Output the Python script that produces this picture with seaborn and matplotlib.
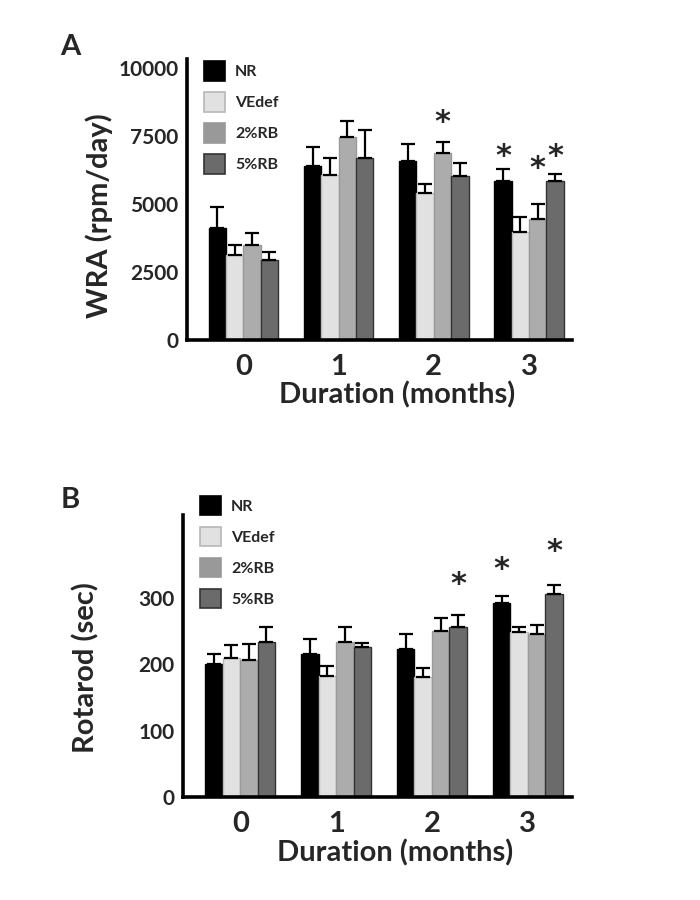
import matplotlib
matplotlib.use('Agg')
import matplotlib.pyplot as plt
import seaborn as sns
import pandas as pd
import numpy as np

sns.set_style('white')
plt.rcParams['font.family'] = ['Lato', 'DejaVu Sans']
plt.rcParams['font.weight'] = 'bold'

months = ['0', '1', '2', '3']
groups = ['NR', 'VEdef', '2%RB', '5%RB']
colors = ['#000000', '#e1e1e1', '#acacac', '#6b6b6b']
edges = ['#000000', '#b8b8b8', '#999999', '#333333']
legend_colors = ['#000000', '#e1e1e1', '#999999', '#6b6b6b']

# panel A: wheel running activity (rpm/day), mean and top of error bar
wra_nr = [4100, 6380, 6560, 5830]
wra_vedef = [3120, 6070, 5390, 3980]
wra_2rb = [3500, 7450, 6880, 4440]
wra_5rb = [2940, 6670, 6020, 5830]
wra_nr_err = [4900, 7100, 7200, 6270]
wra_vedef_err = [3480, 6690, 5720, 4520]
wra_2rb_err = [3940, 8050, 7260, 4990]
wra_5rb_err = [3250, 7700, 6500, 6110]
wra_stars = [('2', '2%RB', 8000), ('3', 'NR', 6750), ('3', '2%RB', 6280), ('3', '5%RB', 6750)]

# panel B: rotarod (sec)
rot_nr = [201, 216, 223, 293]
rot_vedef = [209, 183, 181, 249]
rot_2rb = [206, 233, 250, 245]
rot_5rb = [233, 226, 256, 306]
rot_nr_err = [215, 238, 245, 303]
rot_vedef_err = [229, 197, 194, 256]
rot_2rb_err = [230, 257, 270, 260]
rot_5rb_err = [257, 232, 274, 320]
rot_stars = [('2', '5%RB', 320), ('3', 'NR', 342), ('3', '5%RB', 370)]


def make_df(vals, errs):
    rows = []
    for g, v, e in zip(groups, vals, errs):
        for m, vv, ee in zip(months, v, e):
            rows.append({'month': m, 'group': g, 'value': vv, 'err': ee})
    return pd.DataFrame(rows)


df_a = make_df([wra_nr, wra_vedef, wra_2rb, wra_5rb],
               [wra_nr_err, wra_vedef_err, wra_2rb_err, wra_5rb_err])
df_b = make_df([rot_nr, rot_vedef, rot_2rb, rot_5rb],
               [rot_nr_err, rot_vedef_err, rot_2rb_err, rot_5rb_err])

fig = plt.figure(figsize=(7, 9), dpi=100)
ax_a = fig.add_axes([0.267, 0.622, 0.55, 0.312])
ax_b = fig.add_axes([0.261, 0.114, 0.556, 0.314])


def draw(ax, df, stars, ylim, yticks, ylabel, ylab_x, ylab_y, xlim, leg_y):
    sns.barplot(data=df, x='month', y='value', hue='group', order=months,
                hue_order=groups, palette=colors, width=0.73, errorbar=None,
                ax=ax, legend=False, saturation=1)
    ax.patch.set_alpha(0)
    centers = {}
    for g, cont, ec in zip(groups, ax.containers, edges):
        sub = df[df.group == g].set_index('month').loc[months]
        xs = []
        for p in cont.patches:
            p.set_edgecolor(ec)
            p.set_linewidth(1.0)
            xs.append(p.get_x() + p.get_width() / 2)
        xs = np.array(xs)
        h = sub.value.values
        ax.errorbar(xs, h, yerr=[np.zeros(len(h)), sub.err.values - h],
                    fmt='none', ecolor='black', elinewidth=1.6, capsize=5,
                    capthick=1.6, zorder=1)
        for m, x in zip(months, xs):
            centers[(m, g)] = x
    for m, g, y in stars:
        ax.text(centers[(m, g)], y, '*', ha='center', va='center',
                fontsize=22, fontweight='bold', family='DejaVu Sans')
    ax.set_ylim(*ylim)
    ax.set_xlim(*xlim)
    ax.set_yticks(yticks)
    ax.tick_params(axis='y', length=0, pad=6, labelsize=15)
    ax.tick_params(axis='x', length=0, pad=10, labelsize=21)
    for s in ['top', 'right']:
        ax.spines[s].set_visible(False)
    for s in ['left', 'bottom']:
        ax.spines[s].set_linewidth(2.6)
        ax.spines[s].set_color('black')
    ax.set_xlabel('Duration (months)', fontsize=21, fontweight='bold')
    ax.xaxis.set_label_coords(0.545, -0.148)
    ax.set_ylabel(ylabel, fontsize=21, fontweight='bold')
    ax.yaxis.set_label_coords(ylab_x, ylab_y)
    handles = [plt.Rectangle((0, 0), 1, 1, facecolor=c, edgecolor=e, linewidth=1.2)
               for c, e in zip(legend_colors, edges)]
    handles[2].set_edgecolor(legend_colors[2])
    ax.legend(handles, groups, loc='upper left', bbox_to_anchor=(0.044, leg_y),
              frameon=False, fontsize=11.5, handlelength=1.35, handleheight=1.5,
              labelspacing=0.72, handletextpad=0.6, borderpad=0,
              borderaxespad=0)


draw(ax_a, df_a, wra_stars, (0, 10300), [0, 2500, 5000, 7500, 10000],
     'WRA (rpm/day)', -0.193, 0.445, (-0.593, 3.45), 0.993)
draw(ax_b, df_b, rot_stars, (0, 425), [0, 100, 200, 300],
     'Rotarod (sec)', -0.213, 0.46, (-0.6, 3.46), 1.067)

fig.text(0.101, 0.948, 'A', fontsize=21, fontweight='bold', ha='center', va='center')
fig.text(0.101, 0.444, 'B', fontsize=21, fontweight='bold', ha='center', va='center')

fig.savefig('out.png', dpi=100, facecolor='white')
